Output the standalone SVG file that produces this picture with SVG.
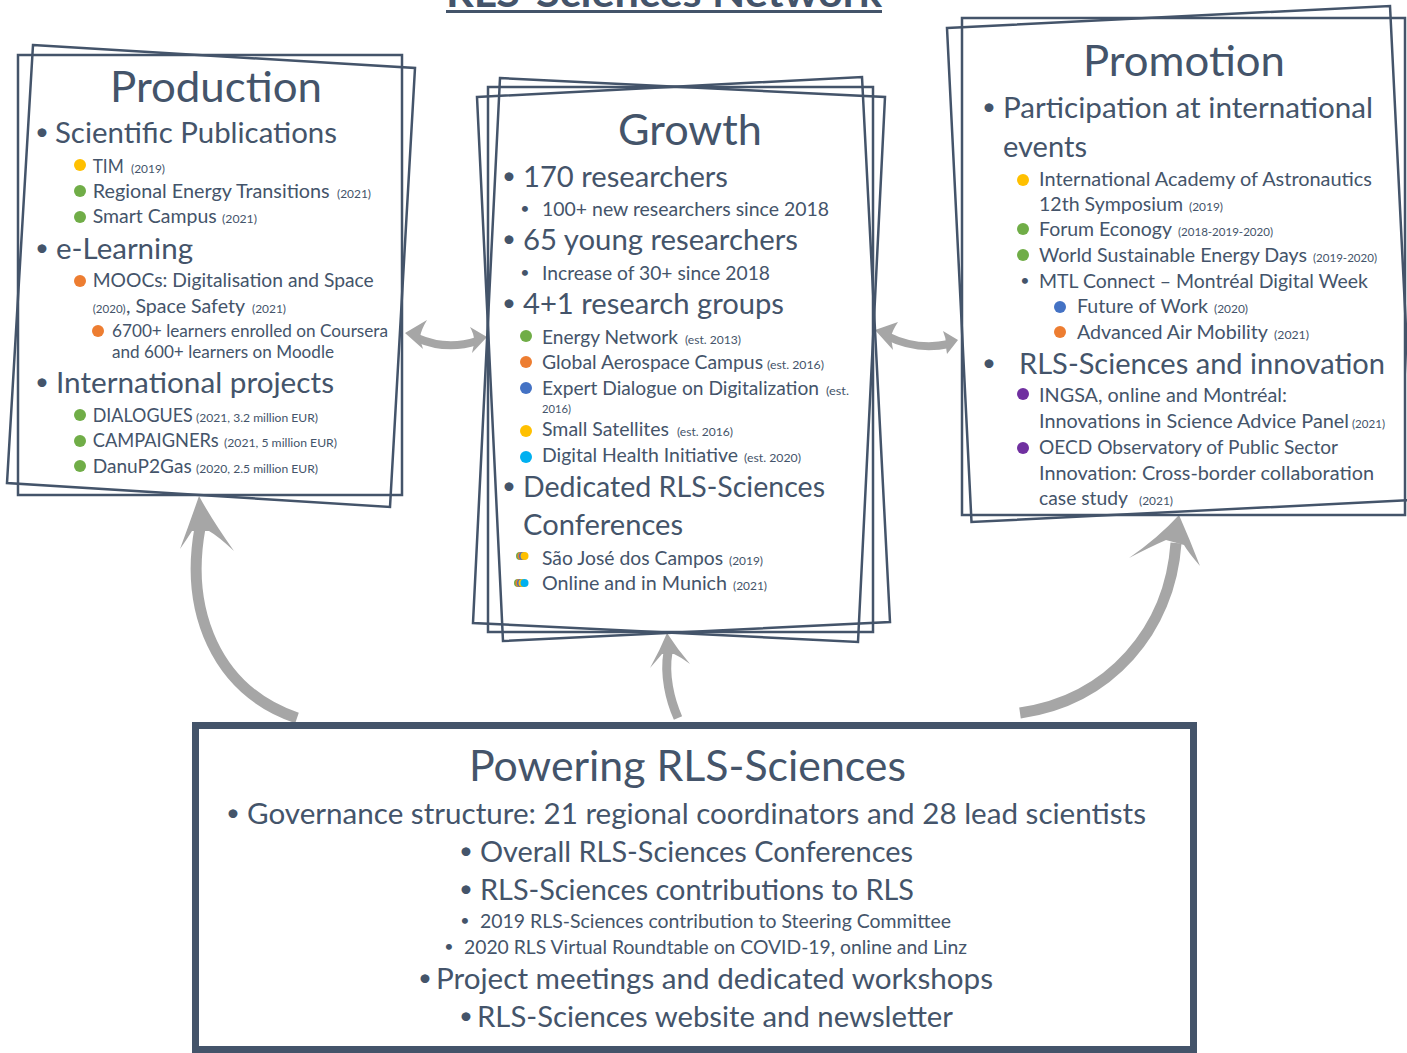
<svg xmlns="http://www.w3.org/2000/svg" width="1407" height="1053" viewBox="0 0 1407 1053">
<style>
.t{font-family:Lato,"Open Sans","DejaVu Sans",sans-serif;fill:#44546A}
.f43{font-size:43px}.f29{font-size:29.5px}.f19{font-size:19.5px}.f17{font-size:17.5px}.f12{font-size:12px}
.bu{font-size:24px}.bs{font-size:16px}
.b{text-anchor:middle}
.box{fill:none;stroke:#44546A;stroke-width:2.5}
.y{fill:#FFC000}.g{fill:#70AD47}.o{fill:#ED7D31}.bl{fill:#4472C4}.lb{fill:#00B0F0}.p{fill:#7030A0}
.ah{fill:#A6A6A6}
.sh{fill:none;stroke:#A6A6A6;stroke-linecap:butt}
</style>
<rect width="1407" height="1053" fill="#fff"/>
<g id="title">
<text x="446" y="7" font-family="Lato, 'Liberation Sans', sans-serif" font-weight="bold" font-size="40" fill="#44546A" textLength="436" lengthAdjust="spacingAndGlyphs">RLS-Sciences Network</text>
<line x1="446" y1="11.5" x2="882" y2="11.5" stroke="#44546A" stroke-width="3"/>
</g>

<g id="connectors">
<path class="sh" stroke-width="11" d="M200,528 C185,610 215,690 297,718"/>
<path class="ah" d="M199,496 Q212,520 234,551 Q218,536 209,531 L192,531 Q187,539 180,549 Q190,522 199,496 Z"/>
<path class="sh" stroke-width="9" d="M668,652 C664,675 670,700 678,718"/>
<path class="ah" d="M667,633 Q678,650 690,664 Q679,656 674,654 L662,654 Q657,660 650,668 Q660,650 667,633 Z"/>
<path class="sh" stroke-width="11" d="M1176,543 C1170,630 1110,700 1020,713"/>
<path class="ah" d="M1179,515 Q1190,540 1200,566 Q1188,552 1184,545 L1166,540 Q1150,547 1129,558 Q1158,538 1179,515 Z"/>
<path class="sh" stroke-width="8" d="M417,338 Q447,351 477,341"/>
<path class="ah" d="M405,333 L427,320 Q421,330 420,337 Q421,343 423,349 Z"/>
<path class="ah" d="M487,337 L470,327 Q474,334 474,340 Q474,346 472,353 Z"/>
<path class="sh" stroke-width="8" d="M887,336 Q917,351 949,344"/>
<path class="ah" d="M875,330 L898,322 Q892,331 891,337 Q892,344 893,350 Z"/>
<path class="ah" d="M958,340 L943,331 Q946,338 946,344 Q946,349 947,354 Z"/>
</g>

<g id="node-production">
<rect class="box" x="18" y="55" width="384" height="440"/>
<polygon class="box" points="33,45 415,68 390,507 7,483"/>
<text class="t f43" x="110" y="102" textLength="212" lengthAdjust="spacingAndGlyphs">Production</text>
<text class="t bu b" x="42" y="140">•</text>
<text class="t f29" x="55" y="143" textLength="282" lengthAdjust="spacingAndGlyphs">Scientific Publications</text>
<circle class="y" cx="80" cy="165" r="6"/>
<text class="t f19" x="92.7" y="173" textLength="31" lengthAdjust="spacingAndGlyphs">TIM</text>
<text class="t f12" x="131" y="173" textLength="34" lengthAdjust="spacingAndGlyphs">(2019)</text>
<circle class="g" cx="80" cy="191" r="6"/>
<text class="t f19" x="92.7" y="198" textLength="237" lengthAdjust="spacingAndGlyphs">Regional Energy Transitions</text>
<text class="t f12" x="337" y="198" textLength="34" lengthAdjust="spacingAndGlyphs">(2021)</text>
<circle class="g" cx="80" cy="217" r="6"/>
<text class="t f19" x="92.7" y="223" textLength="124" lengthAdjust="spacingAndGlyphs">Smart Campus</text>
<text class="t f12" x="222" y="223" textLength="35" lengthAdjust="spacingAndGlyphs">(2021)</text>
<text class="t bu b" x="42" y="256">•</text>
<text class="t f29" x="56" y="259" textLength="137" lengthAdjust="spacingAndGlyphs">e-Learning</text>
<circle class="o" cx="80" cy="281" r="6"/>
<text class="t f19" x="92.7" y="287" textLength="281" lengthAdjust="spacingAndGlyphs">MOOCs: Digitalisation and Space</text>
<text class="t f12" x="92.7" y="313" textLength="33" lengthAdjust="spacingAndGlyphs">(2020)</text>
<text class="t f19" x="126" y="313" textLength="119" lengthAdjust="spacingAndGlyphs">, Space Safety</text>
<text class="t f12" x="252" y="313" textLength="34" lengthAdjust="spacingAndGlyphs">(2021)</text>
<circle class="o" cx="98" cy="331" r="6"/>
<text class="t f17" x="112" y="337" textLength="276" lengthAdjust="spacingAndGlyphs">6700+ learners enrolled on Coursera</text>
<text class="t f17" x="112" y="358" textLength="222" lengthAdjust="spacingAndGlyphs">and 600+ learners on Moodle</text>
<text class="t bu b" x="42" y="390">•</text>
<text class="t f29" x="56" y="393" textLength="278" lengthAdjust="spacingAndGlyphs">International projects</text>
<circle class="g" cx="80" cy="415" r="6"/>
<text class="t f19" x="92.7" y="422" textLength="100" lengthAdjust="spacingAndGlyphs">DIALOGUES</text>
<text class="t f12" x="196" y="422" textLength="122" lengthAdjust="spacingAndGlyphs">(2021, 3.2 million EUR)</text>
<circle class="g" cx="80" cy="441" r="6"/>
<text class="t f19" x="92.7" y="447" textLength="126" lengthAdjust="spacingAndGlyphs">CAMPAIGNERs</text>
<text class="t f12" x="224" y="447" textLength="113" lengthAdjust="spacingAndGlyphs">(2021, 5 million EUR)</text>
<circle class="g" cx="80" cy="466" r="6"/>
<text class="t f19" x="92.7" y="473" textLength="99" lengthAdjust="spacingAndGlyphs">DanuP2Gas</text>
<text class="t f12" x="196" y="473" textLength="122" lengthAdjust="spacingAndGlyphs">(2020, 2.5 million EUR)</text>
</g>

<g id="node-growth">
<rect class="box" x="488" y="87" width="385" height="545"/>
<polygon class="box" points="500,78 885,97 858,642 473,623"/>
<polygon class="box" points="477,97 862,77 890,622 503,641"/>
<text class="t f43" x="618" y="145" textLength="144" lengthAdjust="spacingAndGlyphs">Growth</text>
<text class="t bu b" x="509" y="184">•</text>
<text class="t f29" x="523" y="187" textLength="205" lengthAdjust="spacingAndGlyphs">170 researchers</text>
<text class="t bs b" x="525" y="214">•</text>
<text class="t f19" x="542" y="216" textLength="287" lengthAdjust="spacingAndGlyphs">100+ new researchers since 2018</text>
<text class="t bu b" x="509" y="247">•</text>
<text class="t f29" x="523" y="250" textLength="275" lengthAdjust="spacingAndGlyphs">65 young researchers</text>
<text class="t bs b" x="525" y="278">•</text>
<text class="t f19" x="542" y="280" textLength="228" lengthAdjust="spacingAndGlyphs">Increase of 30+ since 2018</text>
<text class="t bu b" x="509" y="311">•</text>
<text class="t f29" x="523" y="314" textLength="261" lengthAdjust="spacingAndGlyphs">4+1 research groups</text>
<circle class="g" cx="526" cy="336" r="6"/>
<text class="t f19" x="542" y="344" textLength="136" lengthAdjust="spacingAndGlyphs">Energy Network</text>
<text class="t f12" x="685" y="344" textLength="56" lengthAdjust="spacingAndGlyphs">(est. 2013)</text>
<circle class="o" cx="526" cy="362" r="6"/>
<text class="t f19" x="542" y="369" textLength="221" lengthAdjust="spacingAndGlyphs">Global Aerospace Campus</text>
<text class="t f12" x="767" y="369" textLength="57" lengthAdjust="spacingAndGlyphs">(est. 2016)</text>
<circle class="bl" cx="526" cy="388" r="6"/>
<text class="t f19" x="542" y="395" textLength="277" lengthAdjust="spacingAndGlyphs">Expert Dialogue on Digitalization</text>
<text class="t f12" x="826" y="395" textLength="23" lengthAdjust="spacingAndGlyphs">(est.</text>
<text class="t f12" x="542" y="413" textLength="29" lengthAdjust="spacingAndGlyphs">2016)</text>
<circle class="y" cx="526" cy="431" r="6"/>
<text class="t f19" x="542" y="436" textLength="127" lengthAdjust="spacingAndGlyphs">Small Satellites</text>
<text class="t f12" x="677" y="436" textLength="56" lengthAdjust="spacingAndGlyphs">(est. 2016)</text>
<circle class="lb" cx="526" cy="457" r="6"/>
<text class="t f19" x="542" y="462" textLength="196" lengthAdjust="spacingAndGlyphs">Digital Health Initiative</text>
<text class="t f12" x="744" y="462" textLength="57" lengthAdjust="spacingAndGlyphs">(est. 2020)</text>
<text class="t bu b" x="509" y="494">•</text>
<text class="t f29" x="523" y="497" textLength="302" lengthAdjust="spacingAndGlyphs">Dedicated RLS-Sciences</text>
<text class="t f29" x="523" y="535" textLength="160" lengthAdjust="spacingAndGlyphs">Conferences</text>
<circle class="g" cx="520" cy="556" r="4"/>
<circle class="o" cx="521.5" cy="556" r="4"/>
<circle class="bl" cx="523" cy="556" r="4"/>
<circle class="y" cx="524.5" cy="556" r="4"/>
<text class="t f19" x="542" y="565" textLength="181" lengthAdjust="spacingAndGlyphs">São José dos Campos</text>
<text class="t f12" x="729" y="565" textLength="34" lengthAdjust="spacingAndGlyphs">(2019)</text>
<circle class="g" cx="518" cy="583" r="4"/>
<circle class="o" cx="519.5" cy="583" r="4"/>
<circle class="bl" cx="521" cy="583" r="4"/>
<circle class="y" cx="522.5" cy="583" r="4"/>
<circle class="lb" cx="524.5" cy="583" r="4"/>
<text class="t f19" x="542" y="590" textLength="185" lengthAdjust="spacingAndGlyphs">Online and in Munich</text>
<text class="t f12" x="733" y="590" textLength="34" lengthAdjust="spacingAndGlyphs">(2021)</text>
</g>

<g id="node-promotion">
<rect class="box" x="962" y="18" width="443" height="497"/>
<polygon class="box" points="947,28 1390,6 1414.5,500 971.5,522"/>
<text class="t f43" x="1083" y="76" textLength="202" lengthAdjust="spacingAndGlyphs">Promotion</text>
<text class="t bu b" x="989" y="115">•</text>
<text class="t f29" x="1003" y="118" textLength="370" lengthAdjust="spacingAndGlyphs">Participation at international</text>
<text class="t f29" x="1003" y="157" textLength="84" lengthAdjust="spacingAndGlyphs">events</text>
<circle class="y" cx="1023" cy="180" r="6"/>
<text class="t f19" x="1039" y="186" textLength="333" lengthAdjust="spacingAndGlyphs">International Academy of Astronautics</text>
<text class="t f19" x="1039" y="211" textLength="144" lengthAdjust="spacingAndGlyphs">12th Symposium</text>
<text class="t f12" x="1189" y="211" textLength="34" lengthAdjust="spacingAndGlyphs">(2019)</text>
<circle class="g" cx="1023" cy="229" r="6"/>
<text class="t f19" x="1039" y="236" textLength="133" lengthAdjust="spacingAndGlyphs">Forum Econogy</text>
<text class="t f12" x="1178" y="236" textLength="95" lengthAdjust="spacingAndGlyphs">(2018-2019-2020)</text>
<circle class="g" cx="1023" cy="255" r="6"/>
<text class="t f19" x="1039" y="262" textLength="268" lengthAdjust="spacingAndGlyphs">World Sustainable Energy Days</text>
<text class="t f12" x="1313" y="262" textLength="64" lengthAdjust="spacingAndGlyphs">(2019-2020)</text>
<text class="t bs b" x="1025" y="286">•</text>
<text class="t f19" x="1039" y="288" textLength="329" lengthAdjust="spacingAndGlyphs">MTL Connect – Montréal Digital Week</text>
<circle class="bl" cx="1060" cy="307" r="6"/>
<text class="t f19" x="1077" y="313" textLength="131" lengthAdjust="spacingAndGlyphs">Future of Work</text>
<text class="t f12" x="1214" y="313" textLength="34" lengthAdjust="spacingAndGlyphs">(2020)</text>
<circle class="o" cx="1060" cy="332" r="6"/>
<text class="t f19" x="1077" y="339" textLength="191" lengthAdjust="spacingAndGlyphs">Advanced Air Mobility</text>
<text class="t f12" x="1274" y="339" textLength="35" lengthAdjust="spacingAndGlyphs">(2021)</text>
<text class="t bu b" x="989" y="371">•</text>
<text class="t f29" x="1019" y="374" textLength="366" lengthAdjust="spacingAndGlyphs">RLS-Sciences and innovation</text>
<circle class="p" cx="1023" cy="394" r="6"/>
<text class="t f19" x="1039" y="402" textLength="248" lengthAdjust="spacingAndGlyphs">INGSA, online and Montréal:</text>
<text class="t f19" x="1039" y="428" textLength="310" lengthAdjust="spacingAndGlyphs">Innovations in Science Advice Panel</text>
<text class="t f12" x="1352" y="428" textLength="33" lengthAdjust="spacingAndGlyphs">(2021)</text>
<circle class="p" cx="1023" cy="448" r="6"/>
<text class="t f19" x="1039" y="454" textLength="299" lengthAdjust="spacingAndGlyphs">OECD Observatory of Public Sector</text>
<text class="t f19" x="1039" y="480" textLength="335" lengthAdjust="spacingAndGlyphs">Innovation: Cross-border collaboration</text>
<text class="t f19" x="1039" y="505" textLength="89" lengthAdjust="spacingAndGlyphs">case study</text>
<text class="t f12" x="1139" y="505" textLength="34" lengthAdjust="spacingAndGlyphs">(2021)</text>
</g>

<g id="node-powering">
<rect x="195.5" y="725.5" width="998" height="324" fill="none" stroke="#44546A" stroke-width="7"/>
<text class="t f43" x="469" y="781" textLength="437" lengthAdjust="spacingAndGlyphs">Powering RLS-Sciences</text>
<text class="t bu b" x="233" y="821">•</text>
<text class="t f29" x="247" y="824" textLength="899" lengthAdjust="spacingAndGlyphs">Governance structure: 21 regional coordinators and 28 lead scientists</text>
<text class="t bu b" x="466" y="859">•</text>
<text class="t f29" x="480" y="862" textLength="433" lengthAdjust="spacingAndGlyphs">Overall RLS-Sciences Conferences</text>
<text class="t bu b" x="466" y="897">•</text>
<text class="t f29" x="480" y="900" textLength="434" lengthAdjust="spacingAndGlyphs">RLS-Sciences contributions to RLS</text>
<text class="t bs b" x="465" y="926">•</text>
<text class="t f19" x="480" y="928" textLength="471" lengthAdjust="spacingAndGlyphs">2019 RLS-Sciences contribution to Steering Committee</text>
<text class="t bs b" x="449" y="952">•</text>
<text class="t f19" x="464" y="954" textLength="503" lengthAdjust="spacingAndGlyphs">2020 RLS Virtual Roundtable on COVID-19, online and Linz</text>
<text class="t bu b" x="425" y="986">•</text>
<text class="t f29" x="436" y="989" textLength="557" lengthAdjust="spacingAndGlyphs">Project meetings and dedicated workshops</text>
<text class="t bu b" x="466" y="1024">•</text>
<text class="t f29" x="477" y="1027" textLength="476" lengthAdjust="spacingAndGlyphs">RLS-Sciences website and newsletter</text>
</g>
</svg>
